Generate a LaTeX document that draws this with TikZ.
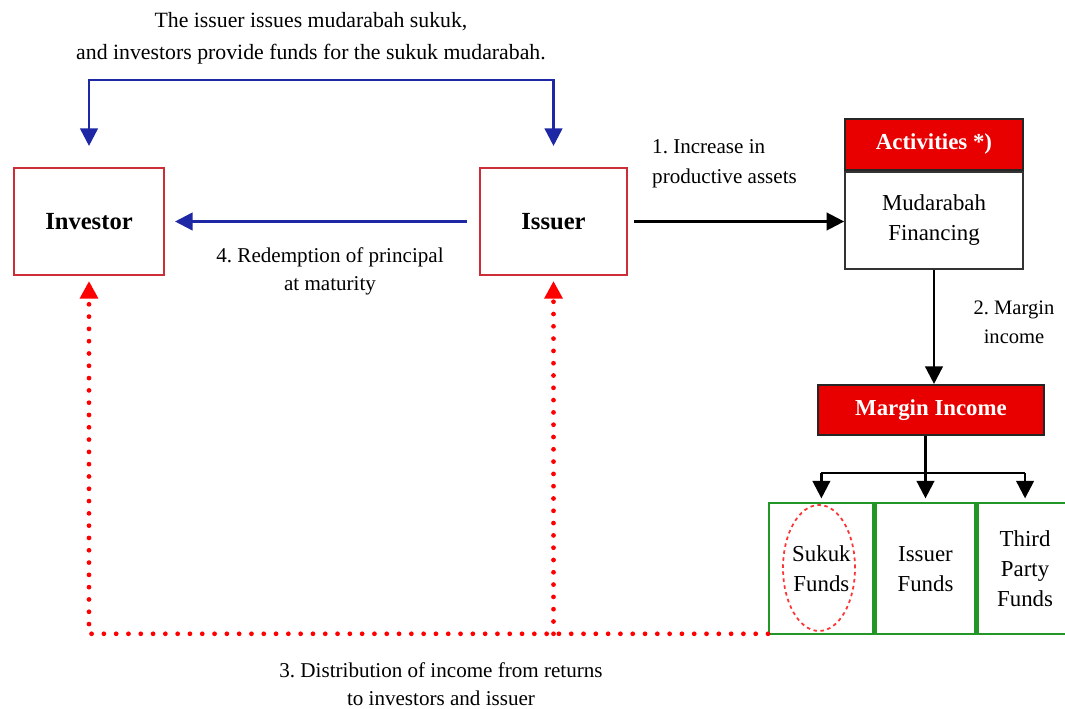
\documentclass[tikz,border=0pt]{standalone}
\usepackage{fontspec}
\setmainfont{Liberation Serif}
\usepackage{xcolor}
\usetikzlibrary{matrix, fit, calc, arrows.meta, shapes.geometric}

\definecolor{flowblue}{RGB}{30,40,165}
\definecolor{boxred}{RGB}{205,45,55}
\definecolor{headred}{RGB}{232,0,0}
\definecolor{fundgreen}{RGB}{35,150,40}

\begin{document}
\begin{tikzpicture}[x=0.02cm, y=-0.02cm,
  party/.style={draw=boxred, line width=1.2pt, minimum height=2.14cm,
    font=\bfseries\fontsize{14}{16}\selectfont},
  header/.style={draw=black!85, fill=headred, text=white, line width=1.2pt,
    font=\bfseries\fontsize{13}{15}\selectfont},
  label/.style={font=\fontsize{12}{16}\selectfont, align=center},
  fund/.style={draw=fundgreen, line width=1.2pt, minimum height=2.62cm, align=center,
    inner sep=0pt, outer sep=0pt, font=\fontsize{13}{17}\selectfont},
  tip/.style={-{Triangle[width=10pt,length=10pt]}},
  blueflow/.style={tip, draw=flowblue, line width=1.5pt},
  blackflow/.style={tip, draw=black, line width=1.4pt},
  redflow/.style={tip, draw=red, line width=2.7pt, line cap=round,
    dash pattern=on 0pt off 7pt},
  ]
\useasboundingbox (0,0) rectangle (1065,709);
% parties
\node[party, minimum width=3cm] (inv) at (89,221.5) {Investor};
\node[party, minimum width=2.94cm] (iss) at (553.5,221.5) {Issuer};
% activities
\node[header, minimum width=3.56cm, minimum height=1.02cm] (acth) at (934,144.5) {Activities *)};
\node[draw=black!80, line width=1pt, minimum width=3.56cm, minimum height=1.94cm,
  align=center, font=\fontsize{13}{17}\selectfont, anchor=north]
  (actb) at (acth.south) {Mudarabah\\Financing};
\node[header, minimum width=4.52cm, minimum height=1cm] (mrg) at (931,410) {Margin Income};
% funds
\matrix[%
  anchor=north west,
  inner sep=0pt,
  row sep=0pt,
  column sep=0pt
  ] (F) at (768,502) {
    \node[fund, minimum width=2.08cm] (F-1-1) {Sukuk\\Funds}; &
    \node[fund, minimum width=2cm] (F-1-2) {Issuer\\Funds}; &
    \node[fund, minimum width=1.9cm] (F-1-3) {Third\\Party\\Funds}; \\
  };
\node[draw=red!80, dash pattern=on 2pt off 2pt, line width=1pt, ellipse,
  minimum width=1.44cm, minimum height=2.52cm] (sukuk) at (819,568) {};
% texts
\node[label, font=\fontsize{12.4}{18}\selectfont] (title) at (311,38)
  {The issuer issues mudarabah sukuk,\\and investors provide funds for the sukuk mudarabah.};
\node[label] (redeem) at (330,271) {4.\ Redemption of principal\\at maturity};
\node[label, font=\fontsize{12}{17}\selectfont, align=left, anchor=west] (incr) at (646,164)
  {1.\ Increase in\\productive assets};
\node[label, font=\fontsize{11.7}{16.5}\selectfont] (margin) at (1014,322) {2.\ Margin\\income};
\node[label] (distr) at (441,684) {3.\ Distribution of income from returns\\to investors and issuer};
% blue flows
\coordinate (top) at (300,80);
\draw[blueflow, {Triangle[width=10pt,length=10pt]}-{Triangle[width=10pt,length=10pt]},
  shorten <=0.42cm, shorten >=0.42cm] (inv.north) |- (top) -| (iss.north);
\draw[blueflow, shorten <=0.24cm, shorten >=0.2cm] (iss.west) -- (inv.east);
% black flows
\draw[blackflow, shorten <=0.12cm] (iss.east) -- (iss.east -| actb.west);
\draw[blackflow] (actb.south) -- (actb.south |- mrg.north);
\coordinate (split) at ($(mrg.south -| F-1-2.north)+(0,37)$);
\draw[black, line width=1.4pt] (split |- mrg.south) -- (split);
\draw[black, line width=1.4pt] (split -| F-1-1.north) -- (split -| F-1-3.north);
\foreach \c in {1,2,3}
  \draw[blackflow, shorten >=0.1cm] (split -| F-1-\c.north) -- (F-1-\c.north);
% red distribution
\coordinate (dist) at ($(F.south west)+(0,-2)$);
\draw[redflow, shorten >=0.1cm] (dist) -- (dist -| inv.south) -- (inv.south);
\draw[redflow, shorten >=0.1cm] (dist -| iss.south) -- (iss.south);
\end{tikzpicture}
\end{document}
